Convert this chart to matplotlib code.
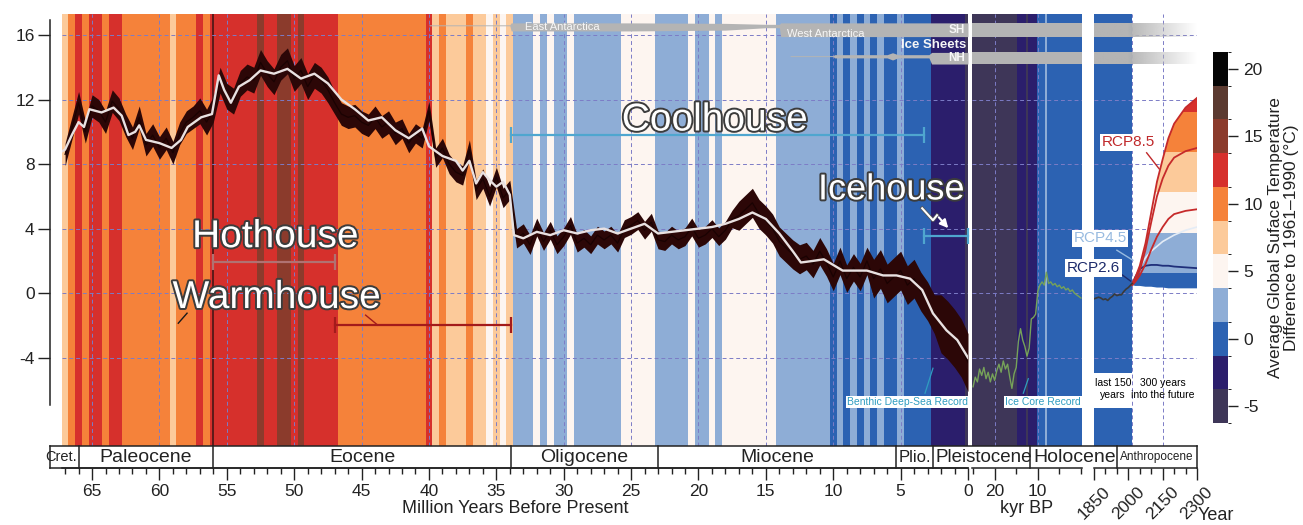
import numpy as np
import matplotlib
matplotlib.use("Agg")
import matplotlib.pyplot as plt
import matplotlib.patheffects as pe
import matplotlib.transforms as mtransforms
from matplotlib.colors import ListedColormap, BoundaryNorm, to_rgb
from matplotlib.colorbar import ColorbarBase
from matplotlib.lines import Line2D
from matplotlib.patches import Polygon

plt.rcParams['font.family'] = ['Liberation Sans', 'DejaVu Sans']
plt.rcParams['axes.unicode_minus'] = False

# colour classes of the temperature scale (deg C, rel. 1961-1990)
levels = [-6.25, -3.75, -1.25, 1.25, 3.75, 6.25, 8.75, 11.25, 13.75, 16.25, 18.75, 21.25]
level_colors = ['#3e3658', '#2b1e6c', '#2c62b2', '#8eadd6', '#fdf5f0', '#fcca9a',
                '#f5823a', '#d6302c', '#8b3b2c', '#5b3a30', '#050505']
cbar_ticks = [-5, 0, 5, 10, 15, 20]

# benthic deep-sea record, 0.5 Myr bins from 67 Ma to present
rec_age = np.arange(67.0, -0.01, -0.5)
rec_temp = [8.6, 10.2, 11.8, 10.0, 11.6, 11.3, 10.6, 11.9, 11.4, 10.4,
            9.6, 10.9, 9.2, 9.8, 9.0, 9.6, 8.7, 9.9, 10.6, 10.9,
            11.3, 10.6, 11.4, 13.2, 12.2, 11.9, 13.0, 13.4, 13.2, 14.3,
            13.6, 13.1, 14.0, 14.4, 13.3, 13.8, 12.8, 13.5, 13.2, 12.6,
            11.8, 11.1, 10.9, 11.0, 10.6, 10.4, 10.9, 10.3, 10.6, 9.9,
            10.2, 9.3, 9.9, 9.6, 11.3, 8.4, 9.0, 8.0, 7.5, 7.3,
            8.9, 6.4, 7.1, 6.0, 7.2, 5.9, 6.4, 3.4, 3.7, 3.0,
            4.1, 3.2, 3.9, 3.0, 3.5, 4.2, 3.1, 3.4, 3.0, 3.6,
            3.3, 3.6, 3.1, 4.0, 4.2, 4.5, 3.9, 4.4, 3.3, 3.2,
            3.6, 3.3, 3.5, 4.1, 3.4, 3.6, 4.0, 3.5, 3.9, 4.6,
            4.8, 5.2, 5.6, 4.9, 4.5, 4.0, 3.2, 2.8, 2.4, 2.1,
            2.3, 1.8, 2.6, 1.9, 1.0, 2.0, 0.9, 1.6, 1.0, 2.0,
            0.9, 1.5, 0.6, 1.0, 1.4, 0.5, 0.9, 0.1, -0.5, -1.3,
            -1.9, -2.3, -2.8, -3.4, -4.3]
# half spread of the noisy record per 5 Myr block
rec_block_spread = [0.7, 0.7, 0.8, 0.8, 0.7, 0.6, 0.6, 0.55, 0.55, 0.55, 0.9, 0.85, 1.2, 1.8]

smooth_age = [67.2, 67.0, 66.5, 66.0, 65.6, 65.2, 64.3, 63.4, 62.8, 62.3, 61.8, 61.5, 61.0,
              60.0, 59.1, 58.4, 57.9, 56.9, 56.1, 55.6, 55.2, 54.7, 54.1, 53.3, 52.5, 51.5,
              50.5, 49.5, 48.5, 47.5, 46.5, 45.5, 44.5, 43.5, 42.5, 41.5, 40.5, 40.0, 39.0,
              38.0, 37.5, 37.0, 36.5, 36.0, 35.5, 35.0, 34.5, 34.0, 33.7, 33.0, 32.0, 31.0,
              30.0, 29.0, 28.0, 27.0, 26.0, 25.0, 24.0, 23.0, 22.0, 21.0, 20.0, 19.0, 18.0,
              17.0, 16.0, 15.0, 14.0, 13.0, 12.4, 11.5, 10.7, 9.3, 7.5, 6.3, 5.3, 4.3, 3.4,
              2.6, 1.6, 0.8, 0.0]
smooth_temp = [8.8, 8.9, 9.8, 10.6, 10.3, 11.4, 11.2, 11.5, 11.0, 9.8, 10.0, 10.4, 9.5,
               9.3, 9.0, 9.5, 10.3, 10.9, 11.1, 13.5, 12.6, 11.8, 12.8, 13.2, 13.8, 13.6,
               13.9, 13.3, 13.6, 13.0, 12.0, 11.4, 10.7, 10.9, 10.1, 9.6, 10.2, 9.1, 8.5,
               8.2, 7.6, 8.2, 6.8, 7.5, 7.0, 6.6, 6.9, 6.1, 3.6, 3.4, 3.8, 3.6,
               3.9, 3.7, 3.9, 4.0, 3.7, 4.0, 4.3, 3.7, 3.8, 3.9, 4.0, 4.1, 4.3,
               4.6, 5.0, 4.6, 3.7, 2.6, 1.9, 2.0, 2.1, 1.4, 1.4, 1.1, 1.1, 0.9, 0.2,
               -1.25, -2.3, -2.9, -4.0]

# ice sheets (Ma, extent drawn as a band)
sh_age = [40.0, 34.0, 33.9, 25.0, 18.0, 15.0, 14.0, 13.9, 0.0]
sh_top = [16.63, 16.63, 16.75, 16.75, 16.72, 16.66, 16.66, 16.75, 16.75]
sh_bot = [16.57, 16.57, 16.25, 16.25, 16.30, 16.45, 16.45, 15.90, 15.90]
nh_age = [13.2, 10.0, 9.9, 6.0, 5.6, 5.2, 2.9, 2.7, 0.0]
nh_top = [14.72, 14.72, 14.78, 14.78, 14.90, 14.78, 14.78, 14.92, 14.92]
nh_bot = [14.66, 14.66, 14.58, 14.58, 14.45, 14.58, 14.58, 14.20, 14.20]

# ice core record, 0.5 kyr bins from 25 kyr BP
ice_age = np.arange(25.0, -0.01, -0.5)
ice_temp = [-5.8, -5.2, -5.5, -4.7, -5.1, -4.6, -5.3, -4.9, -5.5, -5.0,
            -5.4, -4.8, -4.4, -4.9, -4.2, -4.7, -4.4, -5.2, -5.9, -5.0,
            -4.6, -3.0, -2.2, -2.9, -3.3, -3.9, -3.4, -1.6, -1.5, -1.3,
            0.1, 0.5, 0.7, 0.5, 1.3, 0.6, 0.7, 0.5, 0.6, 0.4,
            0.5, 0.3, 0.4, 0.2, 0.3, 0.1, 0.2, 0.0, -0.1, -0.2, -0.3]

# instrumental period
hist_year = [1850, 1860, 1870, 1880, 1890, 1900, 1910, 1920, 1930, 1940,
             1950, 1960, 1970, 1980, 1990, 2000, 2010, 2017]
hist_temp = [-0.35, -0.3, -0.25, -0.3, -0.4, -0.35, -0.45, -0.3, -0.2, -0.05,
             -0.15, -0.1, -0.1, 0.1, 0.25, 0.35, 0.5, 0.6]

# projections to 2300
fut_year = [2017, 2030, 2050, 2075, 2100, 2125, 2150, 2175, 2200, 2250, 2300]
rcp85_hi = [0.6, 0.95, 1.7, 3.1, 5.0, 6.9, 8.3, 9.6, 10.5, 11.5, 12.1]
rcp85_mid = [0.55, 0.8, 1.4, 2.7, 4.4, 6.0, 7.1, 7.9, 8.4, 8.8, 9.0]
rcp85_lo = [0.5, 0.7, 1.1, 1.8, 2.7, 3.5, 4.1, 4.6, 4.9, 5.1, 5.2]
rcp45 = [0.55, 0.9, 1.6, 2.2, 2.6, 2.9, 3.2, 3.4, 3.6, 3.9, 4.1]
rcp26 = [0.55, 1.0, 1.5, 1.7, 1.75, 1.75, 1.7, 1.7, 1.65, 1.6, 1.55]
rcp_lo = [0.5, 0.45, 0.45, 0.4, 0.4, 0.35, 0.35, 0.3, 0.3, 0.3, 0.3]

# geological epochs
epoch_bounds = [66.0, 56.0, 33.9, 23.03, 5.33, 2.58]
epoch_names = ['Paleocene', 'Eocene', 'Oligocene', 'Miocene', 'Plio.']
holocene_start_kyr = 11.7
anthropocene_start = 1950

# climate states
house_names = ['Hothouse', 'Warmhouse', 'Coolhouse', 'Icehouse']
house_start = [56.0, 47.0, 33.9, 3.3]
house_end = [47.0, 33.9, 3.3, 0.0]

W, H = 1303, 525
YLIM = (-9.47, 17.3)
cmap = ListedColormap(level_colors)
cmap.set_under(level_colors[0])
cmap.set_over(level_colors[-1])
norm = BoundaryNorm(levels, cmap.N)


def rect(x0, y0, x1, y1):
    return [x0 / W, 1 - y1 / H, (x1 - x0) / W, (y1 - y0) / H]


def stripes(a, edges, vals):
    a.pcolormesh(edges, YLIM, np.asarray(vals, float)[None, :], cmap=cmap, norm=norm,
                 shading='flat', antialiased=False, edgecolors='none', zorder=0)


fig = plt.figure(figsize=(W / 100, H / 100), dpi=100)
ax = fig.add_axes(rect(62, 14, 968, 446))
ax_ice = fig.add_axes(rect(972, 14, 1082, 446))
ax_ant = fig.add_axes(rect(1094, 14, 1197, 446))
cax = fig.add_axes(rect(1213, 52, 1228, 423))

# background stripes
stripes(ax, np.append(rec_age + 0.25, rec_age[-1] - 0.25), rec_temp)
stripes(ax_ice, np.append(ice_age + 0.25, ice_age[-1] - 0.25), ice_temp)
stripes(ax_ant, hist_year, hist_temp[:-1])
ax.axvline(epoch_bounds[1], color='#3a1414', lw=1.1, zorder=1)

# dashed grid
grid_kw = dict(color='#7c7cc6', lw=0.7, ls=(0, (4, 3)), zorder=1)
for a in (ax, ax_ice, ax_ant):
    for yv in [-4, 0, 4, 8, 12, 16]:
        a.axhline(yv, **grid_kw)
for xv in range(65, 0, -5):
    ax.axvline(xv, **grid_kw)
for xv in [20, 10]:
    ax_ice.axvline(xv, **grid_kw)
for xv in [hist_year[-1], 2150, 2300]:
    ax_ant.axvline(xv, **grid_kw)

# ice sheets
grey = '#b4b4b4'
ax.fill_between(sh_age, sh_bot, sh_top, color=grey, lw=0, zorder=2)
ax.fill_between(nh_age, nh_bot, nh_top, color=grey, lw=0, zorder=2)
ax_ice.axhspan(sh_bot[-1], sh_top[-1], color=grey, lw=0, zorder=2)
ax_ice.axhspan(nh_bot[-1], nh_top[-1], color=grey, lw=0, zorder=2)
fade = np.ones((1, 300, 4))
fade[..., :3] = to_rgb(grey)
fade[0, :, 3] = np.clip(np.linspace(1.5, 0, 300), 0, 1)
for lo, hi in [(sh_bot[-1], sh_top[-1]), (nh_bot[-1], nh_top[-1])]:
    ax_ant.imshow(fade, extent=[1850, 2300, lo, hi], aspect='auto', zorder=2,
                  interpolation='bilinear')
small_w = dict(color='#f6f6f6', va='center', zorder=6)
ax.text(32.9, 16.5, 'East Antarctica', fontsize=8, **small_w)
ax.text(13.4, 16.08, 'West Antarctica', fontsize=8, **small_w)
ax.text(0.2, 16.3, 'SH', fontsize=8.5, fontweight='bold', ha='right', **small_w)
ax.text(0.15, 15.4, 'Ice Sheets', fontsize=9.5, fontweight='bold', ha='right', **small_w)
ax.text(0.2, 14.55, 'NH', fontsize=8.5, fontweight='bold', ha='right', **small_w)

# deep-sea record
spread = np.repeat(rec_block_spread, [10] * 13 + [5])
rec = np.asarray(rec_temp)
ax.fill_between(rec_age, rec - spread, rec + spread, color='#2c0707', lw=0, zorder=3)
ax.plot(rec_age, rec, color='#1a0202', lw=0.9, zorder=3)
ax.plot(smooth_age, smooth_temp, color='#e9e1e1', lw=1.7, zorder=4)

# ice core and instrumental / projections
ax_ice.plot(ice_age, ice_temp, color='#76a259', lw=1.0, zorder=3)
env = np.column_stack([np.r_[fut_year, fut_year[::-1]], np.r_[rcp85_hi, rcp_lo[::-1]]])
clip = Polygon(env, closed=True, transform=ax_ant.transData)
for lo, hi, c in zip(levels[:-1], levels[1:], level_colors):
    band = ax_ant.axhspan(lo, hi, color=c, lw=0, zorder=2)
    band.set_clip_path(clip)
ax_ant.plot(fut_year, rcp45, color='#e4ecf6', lw=1.2, zorder=3)
ax_ant.plot(fut_year, rcp26, color='#1f2f7a', lw=1.3, zorder=3)
for series in (rcp85_hi, rcp85_mid, rcp85_lo):
    ax_ant.plot(fut_year, series, color='#c62a2a', lw=1.3, zorder=3)
ax_ant.plot(hist_year, hist_temp, color='#3a3a3a', lw=1.2, zorder=3)
ax_ant.fill_between([hist_year[0], hist_year[-1]], -7.12, -4.95, color='white', lw=0, zorder=2)

lab_kw = dict(ha='center', va='center', fontsize=11, zorder=7,
              bbox=dict(fc='white', ec='none', pad=1.2))
ax_ant.text(1999, 9.35, 'RCP8.5', color='#c0282a', **lab_kw)
ax_ant.plot([2080, 2135], [8.7, 7.7], color='#c0282a', lw=1, clip_on=False, zorder=6)
ax_ant.text(1876, 3.4, 'RCP4.5', color='#98bbe0', **lab_kw)
ax_ant.plot([1950, 2020], [2.66, 2.04], color='#98bbe0', lw=1, clip_on=False, zorder=6)
ax_ant.text(1848, 1.55, 'RCP2.6', color='#1c2a6a', **lab_kw)
ax_ant.plot([1962, 2010], [1.25, 0.75], color='#1c2a6a', lw=1, clip_on=False, zorder=6)
ax_ant.text(1933, -5.95, 'last 150\nyears', fontsize=7.5, ha='center', va='center',
            linespacing=1.25, zorder=6)
ax_ant.text(2152, -5.95, '300 years\ninto the future', fontsize=7.5, ha='center',
            va='center', linespacing=1.25, zorder=6)

rec_kw = dict(color='#2f9dc0', fontsize=7.5, ha='center', va='center', zorder=7,
              bbox=dict(fc='white', ec='none', pad=0.8))
ax.text(4.48, -6.75, 'Benthic Deep-Sea Record', **rec_kw)
ax.plot([3.19, 2.6], [-6.2, -4.65], color='#2f9dc0', lw=0.9, zorder=6)
ax_ice.text(8.8, -6.75, 'Ice Core Record', **rec_kw)
ax_ice.plot([13.36, 12.2], [-6.2, -5.3], color='#2f9dc0', lw=0.9, zorder=6)

# climate states
house_kw = dict(color='white', ha='center', va='center', zorder=8,
                path_effects=[pe.withStroke(linewidth=2.8, foreground='#3c3c3c')])
house_pos = [(51.4, 3.47), (51.3, -0.3), (18.8, 10.7), (5.7, 6.4)]
house_size = [28, 28, 28, 26]
bracket_y = [1.92, -1.98, 9.78, 3.53]
bracket_col = ['#b07272', '#a31b1b', '#4fa6cf', '#4fa6cf']
for name, (hx, hy), fs in zip(house_names, house_pos, house_size):
    ax.text(hx, hy, name, fontsize=fs, **house_kw)
for x0, x1, yb, c in zip(house_start, house_end, bracket_y, bracket_col):
    ax.plot([x0, x1], [yb, yb], color=c, lw=1.6, zorder=7, clip_on=False)
    ax.plot([x0, x1], [yb, yb], ls='none', marker='|', ms=11, mew=1.6, color=c,
            zorder=7, clip_on=False)
ax.plot([58.6, 57.95], [-1.86, -1.24], color='#1a1a1a', lw=1, zorder=7)
ax.plot([44.7, 43.8], [-1.36, -1.98], color='#a31b1b', lw=1, zorder=7)
arrow_fx = [pe.withStroke(linewidth=2.6, foreground='#555555')]
ax.plot([3.4, 2.6, 2.3], [5.26, 4.52, 4.83], color='white', lw=1.5, zorder=8,
        path_effects=arrow_fx)
ax.annotate('', xy=(1.33, 3.9), xytext=(2.3, 4.83), zorder=8,
            arrowprops=dict(arrowstyle='-|>', color='white', lw=1.5, mutation_scale=12))

# axes styling
tick_c = '#222222'
for a in (ax, ax_ice, ax_ant):
    a.set_ylim(*YLIM)
    for s in ('top', 'right'):
        a.spines[s].set_visible(False)
    a.spines['bottom'].set_position(('outward', 15.84))
    a.spines['bottom'].set_linewidth(1.1)
    a.spines['bottom'].set_color(tick_c)
    a.tick_params(axis='x', which='major', length=8.5, width=1, labelsize=12.5, pad=3,
                  color=tick_c, labelcolor=tick_c)
    a.tick_params(axis='x', which='minor', length=4, width=1, color=tick_c)
for a in (ax_ice, ax_ant):
    a.spines['left'].set_visible(False)
    a.set_yticks([])

ax.set_xlim(67.23, 0)
ax.set_xticks(range(65, -1, -5))
ax.set_xticks(range(67, 0, -1), minor=True)
ax.spines['left'].set_position(('outward', 8.64))
ax.spines['left'].set_bounds(-6.93, 16.93)
ax.spines['left'].set_linewidth(1.1)
ax.spines['left'].set_color(tick_c)
ax.set_yticks([-4, 0, 4, 8, 12, 16])
ax.tick_params(axis='y', length=9, width=1, labelsize=12.5, pad=2, color=tick_c,
               labelcolor=tick_c)
ax.set_xlabel('Million Years Before Present', fontsize=13, labelpad=1, color=tick_c)

ax_ice.set_xlim(25.25, -0.25)
ax_ice.set_xticks([20, 10])
ax_ice.set_xticks([25, 15, 5, 0], minor=True)
ax_ice.set_xlabel('kyr BP', fontsize=13, labelpad=1, color=tick_c)

ax_ant.set_xlim(1850, 2300)
ax_ant.set_xticks([1850, 2000, 2150, 2300])
ax_ant.set_xticks(range(1900, 2300, 50), minor=True)
ax_ant.set_xticklabels(['1850', '2000', '2150', '2300'], rotation=45, ha='center', va='top')
fig.text(1198 / W, 1 - 516 / H, 'Year', fontsize=13, va='center', color=tick_c)

# epoch bar
bar_top, bar_bot = 1 - 446 / H, 1 - 468 / H
bar_mid = (bar_top + bar_bot) / 2
line_kw = dict(color=tick_c, lw=1.1)
fig.add_artist(Line2D([50 / W, 1197 / W], [bar_top, bar_top], **line_kw))
fig.add_artist(Line2D([50 / W, 968 / W], [bar_bot, bar_bot], **line_kw))
fig.add_artist(Line2D([50 / W, 50 / W], [bar_bot, bar_top], **line_kw))


def divider(a, x):
    tr = mtransforms.blended_transform_factory(a.transData, fig.transFigure)
    fig.add_artist(Line2D([x, x], [bar_bot, bar_top], transform=tr, **line_kw))


def epoch_text(a, x, s, fs, **kw):
    tr = mtransforms.blended_transform_factory(a.transData, fig.transFigure)
    a.text(x, bar_mid, s, transform=tr, fontsize=fs, va='center', color=tick_c,
           clip_on=False, **kw)


for b in epoch_bounds:
    divider(ax, b)
divider(ax_ice, holocene_start_kyr)
divider(ax_ant, anthropocene_start)
divider(ax_ant, 2300)
mids = [(b0 + b1) / 2 for b0, b1 in zip(epoch_bounds[:-1], epoch_bounds[1:])]
for m, name in zip(mids, epoch_names):
    epoch_text(ax, m, name, 12 if name == 'Plio.' else 14, ha='center')
epoch_text(ax, 66.1, 'Cret.', 10.5, ha='right')
epoch_text(ax_ice, 22.5, 'Pleistocene', 13.5, ha='center')
epoch_text(ax_ice, 1.4, 'Holocene', 14, ha='center')
epoch_text(ax_ant, 2125, 'Anthropocene', 8.5, ha='center')

# colour bar
cb = ColorbarBase(cax, cmap=cmap, norm=norm, ticks=cbar_ticks)
cb.outline.set_visible(False)
cax.tick_params(length=7, width=1, labelsize=12.5, pad=4, color=tick_c, labelcolor=tick_c)
cb.set_label('Average Global Suface Temperature\nDifference to 1961\u20131990 (\u00b0C)',
             fontsize=12.5, labelpad=4, linespacing=1.05, color=tick_c)

fig.savefig('out.png', dpi=100)
